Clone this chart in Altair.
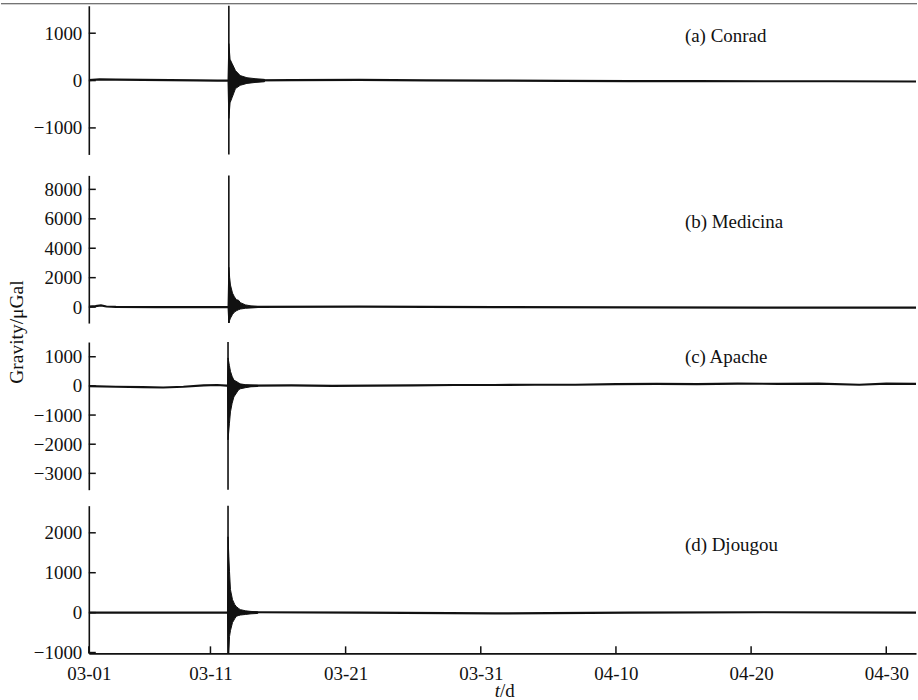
import altair as alt
import pandas as pd

FONT = "Liberation Serif"
INK = "#111111"
T_MAX = 61.2
W = 829
panel_heights = [149, 148, 148, 148]
panel_gaps = [21, 19, 16]

# ---- axis ticks / labels ----
tick_days = [0, 9, 19, 29, 39, 49, 59]
tick_labels = ["03-01", "03-11", "03-21", "03-31", "04-10", "04-20", "04-30"]

station_names = ["(a) Conrad", "(b) Medicina", "(c) Apache", "(d) Djougou"]
y_domains = [[-1560, 1580], [-1085, 8950], [-3560, 1505], [-1020, 2680]]
y_ticks = [[-1000, 0, 1000], [0, 2000, 4000, 6000, 8000],
           [-3000, -2000, -1000, 0, 1000], [-1000, 0, 1000, 2000]]
label_t = [44.1, 44.1, 44.1, 44.1]
label_v = [950, 5760, 990, 1700]
y_title = "Gravity/μGal"
x_title_italic = "t"
x_title_rest = "/d"
top_border = [0]

# ---- background traces (days, μGal) ----
a_bg_t = [0, 0.8, 2, 4, 6, 8, 9.5, 10.2, 12, 15, 20, 25, 30, 35, 40, 45, 50, 55, 61.2]
a_bg_v = [10, 25, 20, 15, 10, 5, 0, 0, 5, 10, 15, 5, 0, -5, -10, -10, -15, -15, -20]
b_bg_t = [0, 0.5, 0.9, 1.3, 2, 5, 10.2, 12, 20, 30, 40, 50, 61.2]
b_bg_v = [30, 60, 110, 40, 20, 0, 0, 20, 30, 0, -20, -30, -30]
c_bg_t = [0, 2, 4, 5.5, 7, 8.5, 9.5, 10.2, 12, 15, 18, 21, 24, 27, 30, 33, 36, 39, 42, 45,
          48, 51, 54, 57, 59, 61.2]
c_bg_v = [-10, -30, -40, -55, -30, 20, 30, 10, 10, 20, 0, 10, 20, 30, 30, 40, 40, 60, 70, 60,
          80, 70, 80, 40, 80, 70]
d_bg_t = [0, 5, 10.2, 12, 20, 30, 40, 50, 61.2]
d_bg_v = [0, 0, 0, 10, 0, -20, 0, 10, 0]

# ---- earthquake burst envelopes ----
a_bu_t = [10.30, 10.36, 10.45, 10.6, 10.85, 11.2, 11.7, 12.3, 13.0]
a_bu_hi = [20, 780, 450, 360, 210, 105, 60, 40, 25]
a_bu_lo = [-20, -800, -470, -360, -170, -100, -60, -40, -25]
b_bu_t = [10.30, 10.36, 10.42, 10.48, 10.63, 10.77, 10.92, 11.07, 11.22, 11.59, 12.0, 12.5]
b_bu_hi = [0, 2700, 2000, 1500, 950, 700, 500, 470, 300, 150, 80, 40]
b_bu_lo = [0, -1100, -900, -750, -500, -340, -250, -180, -130, -80, -60, -30]
c_bu_t = [10.26, 10.30, 10.4, 10.48, 10.6, 10.73, 11.07, 11.2, 11.6, 12.0, 12.5]
c_bu_hi = [20, 960, 700, 500, 330, 200, 110, 70, 40, 30, 20]
c_bu_lo = [-20, -1850, -1300, -890, -600, -380, -140, -100, -60, -30, -20]
d_bu_t = [10.26, 10.30, 10.36, 10.41, 10.48, 10.63, 10.8, 10.92, 11.1, 11.22, 11.6, 12.0, 12.5]
d_bu_hi = [0, 1900, 1400, 1025, 575, 325, 200, 150, 100, 75, 45, 30, 20]
d_bu_lo = [0, -1020, -1020, -600, -450, -250, -150, -90, -70, -60, -45, -30, -20]

# ---- main spike (peak values beyond the plotted range) ----
spike_t = [10.36, 10.36, 10.30, 10.30]
spike_top = [3000, 9500, 2500, 3200]
spike_bottom = [-2500, -1500, -4500, -1500]

bg_t = [a_bg_t, b_bg_t, c_bg_t, d_bg_t]
bg_v = [a_bg_v, b_bg_v, c_bg_v, d_bg_v]
bu_t = [a_bu_t, b_bu_t, c_bu_t, d_bu_t]
bu_hi = [a_bu_hi, b_bu_hi, c_bu_hi, d_bu_hi]
bu_lo = [a_bu_lo, b_bu_lo, c_bu_lo, d_bu_lo]

label_expr = " : ".join(
    f"datum.value == {d} ? '{l}'" for d, l in zip(tick_days, tick_labels)
) + " : ''"


def panel(i):
    bottom = i == 3
    H = panel_heights[i]
    xs = alt.Scale(domain=[0, T_MAX], nice=False, zero=False)
    ys = alt.Scale(domain=y_domains[i], nice=False, zero=False)

    def xaxis():
        if bottom:
            return alt.Axis(values=tick_days, labelExpr=label_expr, title=None,
                            ticks=False, tickSize=0, labelPadding=11, grid=False,
                            domain=True, labelFlush=False, labelFont=FONT,
                            labelFontSize=19, labelColor=INK)
        return None

    def yaxis():
        return alt.Axis(values=y_ticks[i], format="d", title=None, ticks=False,
                        tickSize=0, labelPadding=7, grid=False, domain=True,
                        labelFont=FONT, labelFontSize=19, labelColor=INK)

    bg = alt.Chart(pd.DataFrame({"t": bg_t[i], "v": bg_v[i]})).mark_line(
        color=INK, strokeWidth=2.2, clip=True
    ).encode(
        x=alt.X("t:Q", scale=xs, axis=xaxis()),
        y=alt.Y("v:Q", scale=ys, axis=yaxis()),
    )
    burst = alt.Chart(pd.DataFrame({"t": bu_t[i], "hi": bu_hi[i], "lo": bu_lo[i]})).mark_area(
        color=INK, clip=True, stroke=INK, strokeWidth=1
    ).encode(
        x=alt.X("t:Q", scale=xs, axis=xaxis()),
        y=alt.Y("hi:Q", scale=ys, axis=yaxis()),
        y2="lo:Q",
    )
    spike = alt.Chart(pd.DataFrame({"t": [spike_t[i]], "top": [spike_top[i]],
                                    "bottom": [spike_bottom[i]]})).mark_rule(
        color=INK, strokeWidth=1.6, clip=True
    ).encode(
        x=alt.X("t:Q", scale=xs, axis=xaxis()),
        y=alt.Y("top:Q", scale=ys, axis=yaxis()),
        y2="bottom:Q",
    )
    yt = alt.Chart(pd.DataFrame({"tick": y_ticks[i]})).mark_rule(
        color=INK, strokeWidth=1.5
    ).encode(
        y=alt.Y("tick:Q", scale=ys, axis=yaxis()),
        x=alt.value(0), x2=alt.value(7),
    )
    lab = alt.Chart(pd.DataFrame({"t": [label_t[i]], "v": [label_v[i]],
                                  "s": [station_names[i]]})).mark_text(
        align="left", baseline="middle", font=FONT, fontSize=19, color=INK
    ).encode(
        x=alt.X("t:Q", scale=xs, axis=xaxis()),
        y=alt.Y("v:Q", scale=ys, axis=yaxis()),
        text="s:N",
    )
    layers = [bg, burst, spike, yt, lab]
    if i == 0:
        layers.append(
            alt.Chart(pd.DataFrame({"k": top_border})).mark_rule(
                color="#444444", strokeWidth=1
            ).encode(x=alt.value(-88), x2=alt.value(830), y=alt.value(-2))
        )
    if i == 1:
        layers.append(
            alt.Chart(pd.DataFrame({"s": [y_title]})).mark_text(
                angle=270, align="center", baseline="middle", font=FONT,
                fontSize=19.5, color=INK
            ).encode(x=alt.value(-72), y=alt.value(157), text="s:N")
        )
    if bottom:
        xt = alt.Chart(pd.DataFrame({"t": tick_days})).mark_rule(
            color=INK, strokeWidth=1.5
        ).encode(
            x=alt.X("t:Q", scale=xs, axis=xaxis()),
            y=alt.value(H), y2=alt.value(H - 7),
        )
        t1 = alt.Chart(pd.DataFrame({"s": [x_title_italic]})).mark_text(
            align="right", baseline="middle", font=FONT, fontSize=19,
            fontStyle="italic", color=INK
        ).encode(x=alt.value(412), y=alt.value(186), text="s:N")
        t2 = alt.Chart(pd.DataFrame({"s": [x_title_rest]})).mark_text(
            align="left", baseline="middle", font=FONT, fontSize=19, color=INK
        ).encode(x=alt.value(412), y=alt.value(186), text="s:N")
        layers += [xt, t1, t2]
    return alt.layer(*layers).properties(width=W, height=H)


pa, pb, pc, pd_ = [panel(i) for i in range(4)]
lower_cd = alt.vconcat(pc, pd_, spacing=panel_gaps[2], bounds="flush")
lower_bcd = alt.vconcat(pb, lower_cd, spacing=panel_gaps[1], bounds="flush")

chart = alt.vconcat(pa, lower_bcd, spacing=panel_gaps[0], bounds="flush").properties(
    padding={"left": 0, "top": 2, "right": 0, "bottom": 0}
).configure_axis(
    labelFont=FONT, labelFontSize=19, labelColor=INK, domainColor=INK,
    domainWidth=1.6
).configure_view(stroke=None)

chart.save("out.html", embed_options={"renderer": "svg", "actions": False})
